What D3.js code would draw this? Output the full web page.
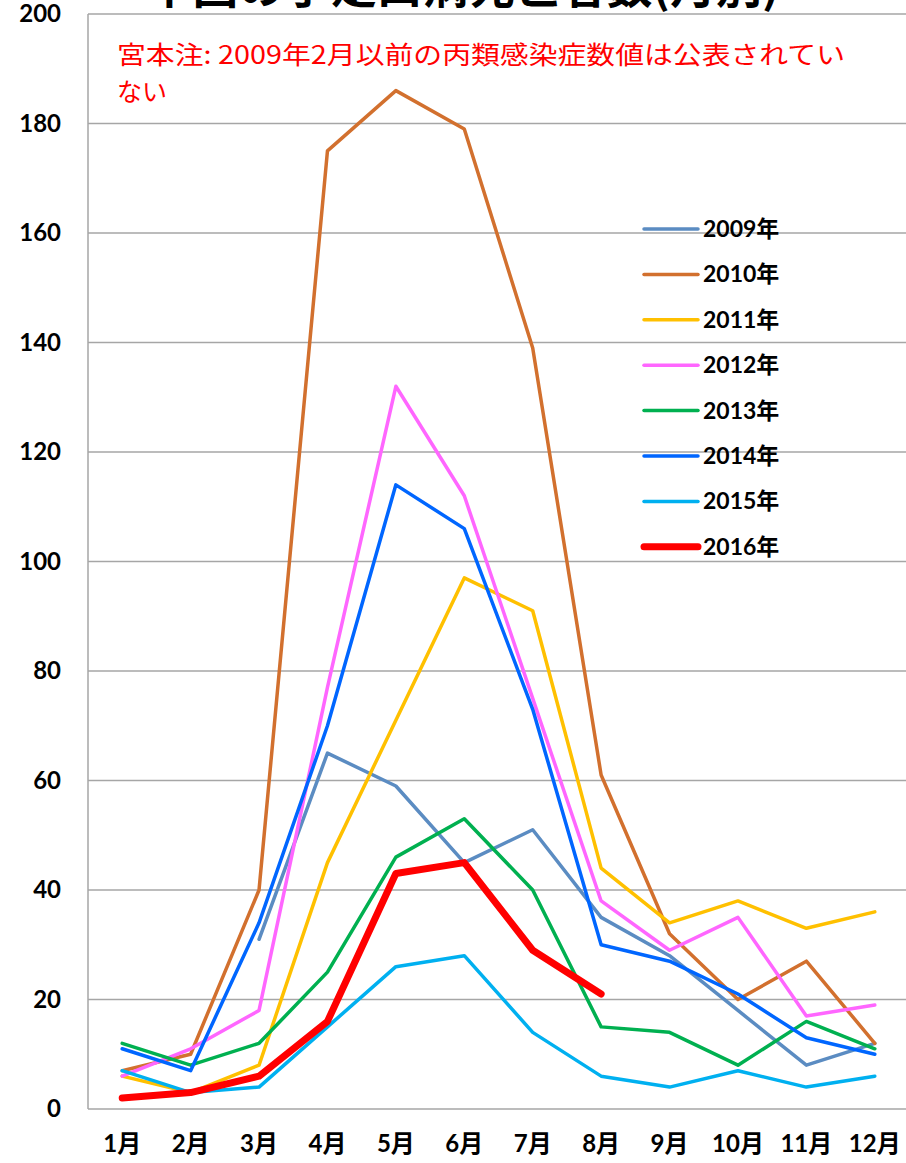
<!DOCTYPE html>
<html>
<head>
<meta charset="utf-8">
<script src="https://cdn.jsdelivr.net/npm/d3@7"></script>
<style>
  html, body { margin: 0; padding: 0; background: #fff; }
  svg { display: block; }
</style>
</head>
<body>
<div id="chart"></div>
<script>
// Data
const months = ['1月', '2月', '3月', '4月', '5月', '6月', '7月', '8月', '9月', '10月', '11月', '12月'];
const yTicks = [0, 20, 40, 60, 80, 100, 120, 140, 160, 180, 200];
const years = ['2009年', '2010年', '2011年', '2012年', '2013年', '2014年', '2015年', '2016年'];

const d2009 = [null, null, 31, 65, 59, 45, 51, 35, 28, 18, 8, 12];
const d2010 = [7, 10, 40, 175, 186, 179, 139, 61, 32, 20, 27, 12];
const d2011 = [6, 3, 8, 45, 71, 97, 91, 44, 34, 38, 33, 36];
const d2012 = [6, 11, 18, 77, 132, 112, 75, 38, 29, 35, 17, 19];
const d2013 = [12, 8, 12, 25, 46, 53, 40, 15, 14, 8, 16, 11];
const d2014 = [11, 7, 34, 70, 114, 106, 73, 30, 27, 21, 13, 10];
const d2015 = [7, 3, 4, 15, 26, 28, 14, 6, 4, 7, 4, 6];
const d2016 = [2, 3, 6, 16, 43, 45, 29, 21];

const titleText = '中国の手足口病死亡者数(月別)';
const noteLine1 = '宮本注: 2009年2月以前の丙類感染症数値は公表されてい';
const noteLine2 = 'ない';

// Styles
const colors = ['#5b8cc2', '#d2702e', '#ffc000', '#ff66ff', '#00b050', '#0066ff', '#00b0f0', '#ff0000'];
const widths = [3.5, 3.5, 3.5, 3.5, 3.5, 3.5, 3.5, 7];

const series = [d2009, d2010, d2011, d2012, d2013, d2014, d2015, d2016];

const width = 906;
const height = 1163;
const plot = { left: 88, right: 909, top: 14, bottom: 1109 };
const labelFont = "Lato, 'Noto Sans CJK JP', sans-serif";

const svg = d3.select('#chart')
  .append('svg')
  .attr('width', width)
  .attr('height', height);

const x = d3.scaleBand()
  .domain(months)
  .range([plot.left, plot.right])
  .padding(0);

const y = d3.scaleLinear()
  .domain([0, 200])
  .range([plot.bottom, plot.top]);

// Gridlines
svg.append('g')
  .selectAll('line')
  .data(yTicks)
  .enter()
  .append('line')
  .attr('x1', plot.left)
  .attr('x2', plot.right)
  .attr('y1', (d) => y(d))
  .attr('y2', (d) => y(d))
  .attr('stroke', '#a6a6a6')
  .attr('stroke-width', 1.5);

// left border
svg.append('line')
  .attr('x1', plot.left)
  .attr('x2', plot.left)
  .attr('y1', plot.top)
  .attr('y2', plot.bottom)
  .attr('stroke', '#a6a6a6')
  .attr('stroke-width', 1.5);

// Y axis labels
const yAxis = d3.axisLeft(y).tickValues(yTicks).tickSize(0).tickPadding(27);
svg.append('g')
  .attr('transform', 'translate(' + plot.left + ',0)')
  .call(yAxis)
  .call((g) => g.select('.domain').remove())
  .selectAll('text')
  .attr('font-family', labelFont)
  .attr('font-weight', 'bold')
  .attr('font-size', 24)
  .attr('fill', '#000');

// X axis labels
const xAxis = d3.axisBottom(x).tickSize(0).tickPadding(26);
svg.append('g')
  .attr('transform', 'translate(0,' + plot.bottom + ')')
  .call(xAxis)
  .call((g) => g.select('.domain').remove())
  .selectAll('text')
  .attr('font-family', labelFont)
  .attr('font-weight', 'bold')
  .attr('font-size', 24)
  .attr('fill', '#000');

// Lines
const line = d3.line()
  .defined((d) => d != null)
  .x((d, i) => x(months[i]) + x.bandwidth() / 2)
  .y((d) => y(d));

svg.append('g')
  .selectAll('path')
  .data(series)
  .enter()
  .append('path')
  .attr('d', (d) => line(d))
  .attr('fill', 'none')
  .attr('stroke', (d, i) => colors[i])
  .attr('stroke-width', (d, i) => widths[i])
  .attr('stroke-linejoin', 'round')
  .attr('stroke-linecap', 'round');

// Legend
const legend = svg.append('g')
  .selectAll('g')
  .data(years)
  .enter()
  .append('g')
  .attr('transform', (d, i) => 'translate(644,' + (229 + i * 45.4) + ')');

legend.append('line')
  .attr('x1', 0)
  .attr('x2', 54)
  .attr('stroke', (d, i) => colors[i])
  .attr('stroke-width', (d, i) => widths[i])
  .attr('stroke-linecap', 'round');

legend.append('text')
  .attr('x', 59)
  .attr('dy', '0.35em')
  .attr('font-family', labelFont)
  .attr('font-weight', 'bold')
  .attr('font-size', 23)
  .text((d) => d);

// Note
svg.append('text')
  .attr('x', 117)
  .attr('y', 64)
  .attr('font-family', "'Noto Sans CJK JP', sans-serif")
  .attr('font-size', 25)
  .attr('fill', '#ff0000')
  .attr('textLength', 728)
  .attr('lengthAdjust', 'spacingAndGlyphs')
  .text(noteLine1);

svg.append('text')
  .attr('x', 117)
  .attr('y', 101)
  .attr('font-family', "'Noto Sans CJK JP', sans-serif")
  .attr('font-size', 25)
  .attr('fill', '#ff0000')
  .text(noteLine2);

// Title (cut off at the top, as in the source image)
svg.append('text')
  .attr('x', 463)
  .attr('y', 3)
  .attr('text-anchor', 'middle')
  .attr('font-family', "'Noto Sans CJK JP', sans-serif")
  .attr('font-weight', 'bold')
  .attr('font-size', 46)
  .attr('fill', '#000')
  .text(titleText);
</script>
</body>
</html>
